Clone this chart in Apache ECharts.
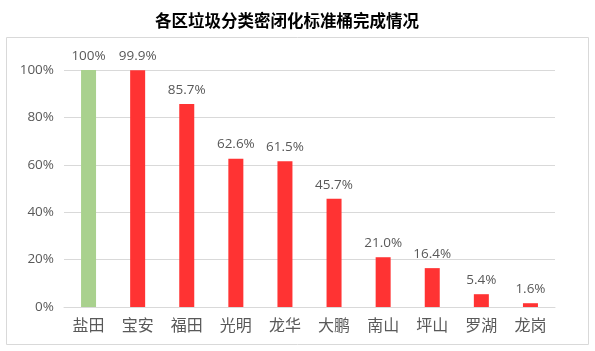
<!DOCTYPE html>
<html>
<head>
<meta charset="utf-8">
<script src="https://cdn.jsdelivr.net/npm/echarts@6/dist/echarts.min.js"></script>
<style>
  html, body { margin: 0; padding: 0; background: #fff; }
  #chart { width: 595px; height: 351px; }
</style>
</head>
<body>
<div id="chart"></div>
<script>
// 区名与完成率
var districts = ['盐田', '宝安', '福田', '光明', '龙华', '大鹏', '南山', '坪山', '罗湖', '龙岗'];
var rates = [100, 99.9, 85.7, 62.6, 61.5, 45.7, 21.0, 16.4, 5.4, 1.6];
var yTicks = [0, 20, 40, 60, 80, 100];

var chart = echarts.init(document.getElementById('chart'));

var barData = [];
for (var i = 0; i < rates.length; i++) {
    barData.push({
        value: rates[i],
        itemStyle: { color: i === 0 ? '#A9D18E' : '#FF3333' }
    });
}

chart.setOption({
    animation: false,
    title: {
        text: '各区垃圾分类密闭化标准桶完成情况',
        left: 150,
        top: 7,
        textStyle: {
            fontFamily: 'Noto Sans CJK SC',
            fontSize: 16.5,
            fontWeight: 'bold',
            color: '#000'
        }
    },
    graphic: [{
        type: 'rect',
        shape: { x: 6.5, y: 37.5, width: 582, height: 307 },
        style: { fill: 'none', stroke: '#d9d9d9', lineWidth: 1 },
        silent: true
    }],
    grid: { left: 64, right: 40, top: 70, bottom: 44 },
    xAxis: {
        type: 'category',
        data: districts,
        axisTick: { show: false },
        axisLine: { lineStyle: { color: '#d9d9d9' } },
        axisLabel: {
            color: '#595959',
            fontSize: 16,
            margin: 10,
            fontFamily: 'Noto Sans CJK SC'
        }
    },
    yAxis: {
        type: 'value',
        min: yTicks[0],
        max: yTicks[yTicks.length - 1],
        interval: 20,
        axisLine: { show: false },
        axisTick: { show: false },
        splitLine: { lineStyle: { color: '#d9d9d9' } },
        axisLabel: {
            color: '#595959',
            fontSize: 13.5,
            margin: 10,
            fontFamily: 'Open Sans',
            formatter: '{value}%'
        }
    },
    series: [{
        type: 'bar',
        data: barData,
        barWidth: 15,
        label: {
            show: true,
            position: 'top',
            distance: 7,
            color: '#595959',
            fontSize: 13.5,
            fontFamily: 'Open Sans',
            formatter: function (p) {
                return p.value === 100 ? '100%' : p.value.toFixed(1) + '%';
            }
        }
    }]
});
</script>
</body>
</html>
